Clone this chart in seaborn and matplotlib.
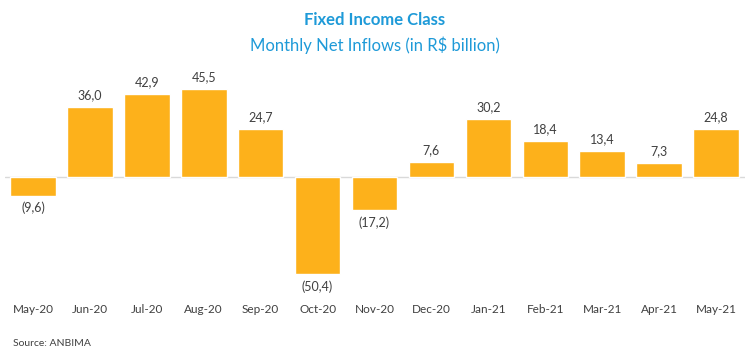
import matplotlib
matplotlib.use('Agg')
import matplotlib.pyplot as plt
import seaborn as sns
import pandas as pd

months = ['May-20', 'Jun-20', 'Jul-20', 'Aug-20', 'Sep-20', 'Oct-20', 'Nov-20',
          'Dec-20', 'Jan-21', 'Feb-21', 'Mar-21', 'Apr-21', 'May-21']
inflows = [-9.6, 36.0, 42.9, 45.5, 24.7, -50.4, -17.2, 7.6, 30.2, 18.4, 13.4, 7.3, 24.8]

df = pd.DataFrame({'month': months, 'inflow': inflows})

sns.set_style('white')
plt.rcParams['font.family'] = ['Lato', 'DejaVu Sans']

blue = '#1E9AD8'
bar_color = '#FDB11B'

fig = plt.figure(figsize=(7.5, 3.58), dpi=100)
ax = fig.add_axes([4.5 / 750, 1 - 293 / 358, 740 / 750, 222.4 / 358])

sns.barplot(data=df, x='month', y='inflow', color=bar_color, saturation=1,
            width=0.8, ax=ax)
ax.set_ylim(-60, 55)
ax.axhline(0, color='#D9D9D9', lw=1, zorder=0)

# labels: negatives in parentheses, comma decimals
for i, v in enumerate(inflows):
    txt = f'{abs(v):.1f}'.replace('.', ',')
    if v < 0:
        ax.text(i, v - 3, f'({txt})', ha='center', va='top', fontsize=9, color='#404040')
    else:
        ax.text(i, v + 3, txt, ha='center', va='bottom', fontsize=9, color='#404040')

ax.set_xlabel('')
ax.set_ylabel('')
ax.set_yticks([])
ax.tick_params(axis='x', length=0, pad=8, labelsize=8.5, labelcolor='#404040')
sns.despine(ax=ax, left=True, bottom=True)

fig.text(0.5, 1 - 20 / 358, 'Fixed Income Class', ha='center', va='center',
         fontsize=12, fontweight='bold', color=blue)
fig.text(0.5, 1 - 45 / 358, 'Monthly Net Inflows (in R$ billion)', ha='center', va='center',
         fontsize=12, color=blue)
fig.text(13 / 750, 1 - 343 / 358, 'Source: ANBIMA', ha='left', va='center',
         fontsize=7.5, color='#404040')

fig.savefig('out.png', dpi=100)
